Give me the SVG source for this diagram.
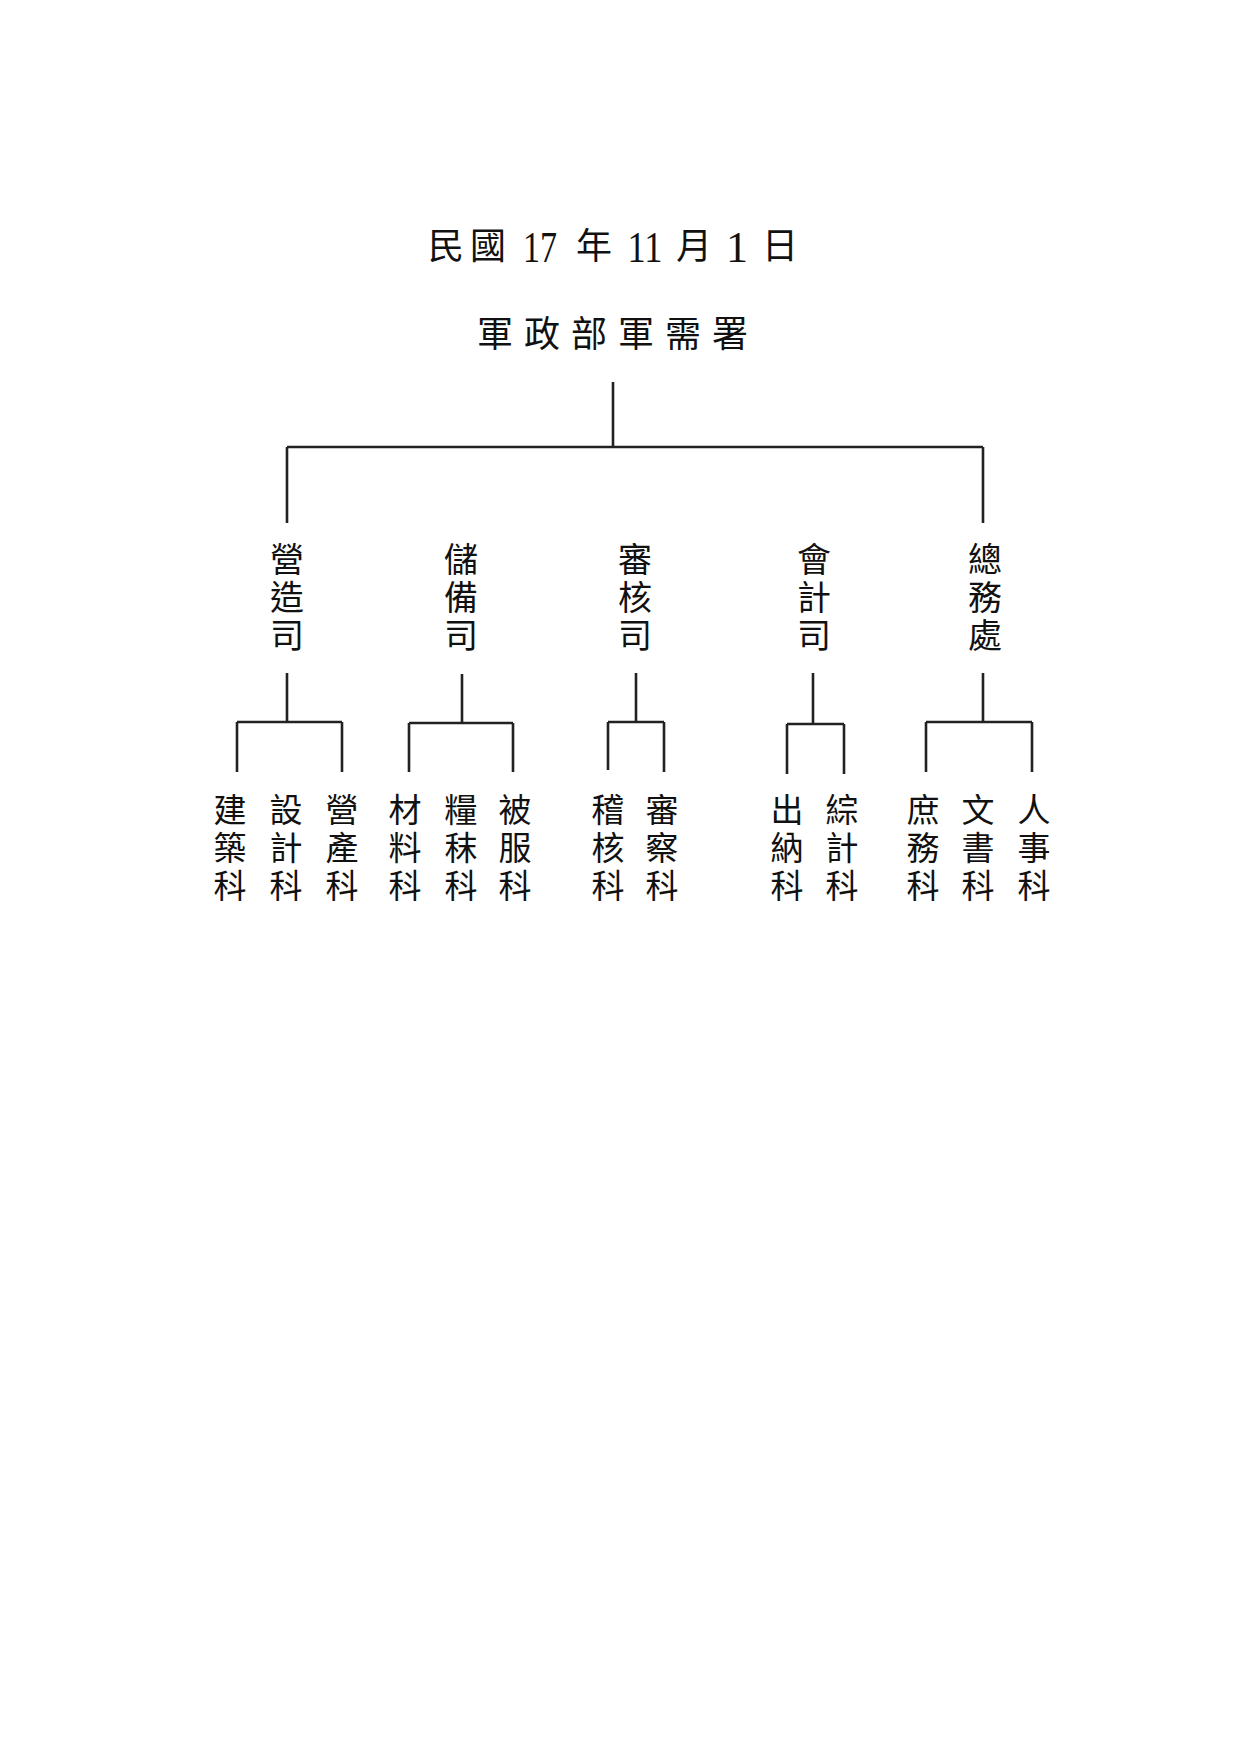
<svg xmlns="http://www.w3.org/2000/svg" width="1240" height="1754" viewBox="0 0 1240 1754">
<style>
.t{font-family:"Liberation Serif","Noto Sans CJK TC",serif;fill:#111;text-anchor:middle;dominant-baseline:central}
.h{font-size:36px}
.n{font-size:34px}
.s{font-size:33px}
.c{fill:none;stroke:#222;stroke-width:2.6}
</style>
<rect width="1240" height="1754" fill="#fff"/>
<g id="title">
<text class="t h" x="446" y="247">民</text>
<text class="t h" x="488" y="247">國</text>
<text class="t" x="540" y="247" font-size="44" textLength="34" lengthAdjust="spacingAndGlyphs">17</text>
<text class="t h" x="594" y="247">年</text>
<text class="t" x="645" y="247" font-size="44" textLength="35" lengthAdjust="spacingAndGlyphs">11</text>
<text class="t h" x="694" y="247">月</text>
<text class="t" x="737" y="247" font-size="44">1</text>
<text class="t h" x="780" y="247">日</text>
</g>
<g id="root">
<text class="t h" x="495" y="335">軍</text>
<text class="t h" x="542" y="335">政</text>
<text class="t h" x="589" y="335">部</text>
<text class="t h" x="636" y="335">軍</text>
<text class="t h" x="683" y="335">需</text>
<text class="t h" x="730" y="335">署</text>
</g>
<g id="connectors" class="c">
<path d="M613 382V447M287 447H983M287 447V523M983 447V523"/>
<path d="M287 673V722M237 722H342M237 722V772M342 722V772"/>
<path d="M462 674V723M409 723H513M409 723V772M513 723V772"/>
<path d="M636 673V722M608 722H664M608 722V770M664 722V772"/>
<path d="M813 673V724M787 724H844M787 724V774M844 724V774"/>
<path d="M983 673V722M926 722H1032M926 722V772M1032 722V772"/>
</g>
<g id="yingzao-si">
<text class="t n" x="287" y="560">營</text><text class="t n" x="287" y="598">造</text><text class="t n" x="287" y="636">司</text>
</g>
<g id="chubei-si">
<text class="t n" x="461" y="560">儲</text><text class="t n" x="461" y="598">備</text><text class="t n" x="461" y="636">司</text>
</g>
<g id="shenhe-si">
<text class="t n" x="635" y="560">審</text><text class="t n" x="635" y="598">核</text><text class="t n" x="635" y="636">司</text>
</g>
<g id="kuaiji-si">
<text class="t n" x="814" y="560">會</text><text class="t n" x="814" y="598">計</text><text class="t n" x="814" y="636">司</text>
</g>
<g id="zongwu-chu">
<text class="t n" x="985" y="560">總</text><text class="t n" x="985" y="598">務</text><text class="t n" x="985" y="636">處</text>
</g>
<g id="jianzhu-ke"><text class="t s" x="230" y="811">建</text><text class="t s" x="230" y="849">築</text><text class="t s" x="230" y="887">科</text></g>
<g id="sheji-ke"><text class="t s" x="286" y="811">設</text><text class="t s" x="286" y="849">計</text><text class="t s" x="286" y="887">科</text></g>
<g id="yingchan-ke"><text class="t s" x="342" y="811">營</text><text class="t s" x="342" y="849">產</text><text class="t s" x="342" y="887">科</text></g>
<g id="cailiao-ke"><text class="t s" x="405" y="811">材</text><text class="t s" x="405" y="849">料</text><text class="t s" x="405" y="887">科</text></g>
<g id="liangmo-ke"><text class="t s" x="461" y="811">糧</text><text class="t s" x="461" y="849">秣</text><text class="t s" x="461" y="887">科</text></g>
<g id="beifu-ke"><text class="t s" x="515" y="811">被</text><text class="t s" x="515" y="849">服</text><text class="t s" x="515" y="887">科</text></g>
<g id="jihe-ke"><text class="t s" x="608" y="811">稽</text><text class="t s" x="608" y="849">核</text><text class="t s" x="608" y="887">科</text></g>
<g id="shencha-ke"><text class="t s" x="662" y="811">審</text><text class="t s" x="662" y="849">察</text><text class="t s" x="662" y="887">科</text></g>
<g id="chuna-ke"><text class="t s" x="787" y="811">出</text><text class="t s" x="787" y="849">納</text><text class="t s" x="787" y="887">科</text></g>
<g id="zongji-ke"><text class="t s" x="842" y="811">綜</text><text class="t s" x="842" y="849">計</text><text class="t s" x="842" y="887">科</text></g>
<g id="shuwu-ke"><text class="t s" x="923" y="811">庶</text><text class="t s" x="923" y="849">務</text><text class="t s" x="923" y="887">科</text></g>
<g id="wenshu-ke"><text class="t s" x="978" y="811">文</text><text class="t s" x="978" y="849">書</text><text class="t s" x="978" y="887">科</text></g>
<g id="renshi-ke"><text class="t s" x="1034" y="811">人</text><text class="t s" x="1034" y="849">事</text><text class="t s" x="1034" y="887">科</text></g>
</svg>
